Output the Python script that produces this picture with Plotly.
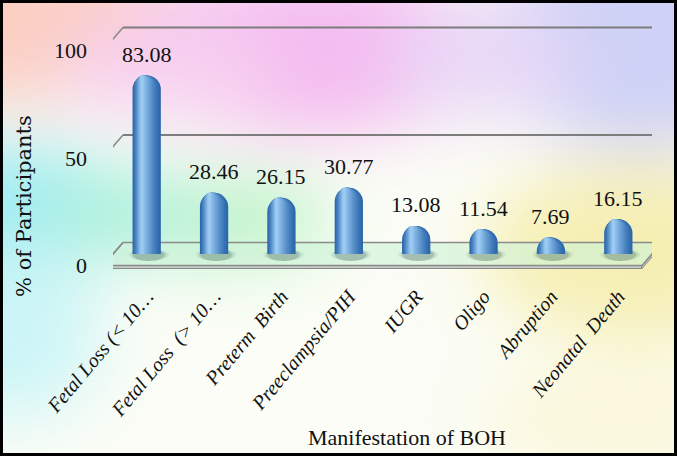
import base64
import plotly.graph_objects as go

# ---- data ----
categories = [
    "Fetal Loss (< 10\u2026",
    "Fetal Loss \u00a0(> 10\u2026",
    "Preterm \u00a0Birth",
    "Preeclampsia/PIH",
    "IUGR",
    "Oligo",
    "Abruption",
    "Neonatal \u00a0Death",
]
values = [83.08, 28.46, 26.15, 30.77, 13.08, 11.54, 7.69, 16.15]
y_ticks = [0, 50, 100]
x_title = "Manifestation of BOH"
y_title = "% of Participants"

SERIF = "Liberation Serif, Times New Roman, serif"

# ---- canvas / pseudo-3D geometry (pixels) ----
W, H = 677, 456
ML, MR, MT, MB = 87, 25, 20, 176      # plot area; value-axis labels sit on its left edge
BAR_LEFT = 113                         # left edge of the category band (mid depth)
PW, PH = W - ML - MR, H - MT - MB
PX_PER_UNIT = 2.15          # vertical pixels per percentage point
BASE_ROW = 254              # pixel row of value 0 at mid depth
DEPTH_X, DEPTH_Y = 20, 23   # front-to-back offset of the box
N = len(categories)
CAT_PX = (W - MR - BAR_LEFT) / N

y_lo = -(MT + PH - BASE_ROW) / PX_PER_UNIT
y_hi = y_lo + PH / PX_PER_UNIT
dxh = (DEPTH_X / 2) / CAT_PX         # half depth in category units
dyh = (DEPTH_Y / 2) / PX_PER_UNIT    # half depth in value units
slab = 3 / PX_PER_UNIT

x_left, x_right = -0.5, N - 0.5


def px_x(px):
    return (px - ML) / PW


def px_y(px):
    return 1 - (px - MT) / PH


# ---- soft multi-colour background with black frame ----
svg = f"""<svg xmlns='http://www.w3.org/2000/svg' width='{W}' height='{H}' viewBox='0 0 {W} {H}'>
<defs><filter id='b' x='-50%' y='-50%' width='200%' height='200%'><feGaussianBlur stdDeviation='34'/></filter></defs>
<rect width='{W}' height='{H}' fill='#fbfdf6'/>
<g filter='url(#b)'>
<ellipse cx='20' cy='20' rx='170' ry='85' fill='#fbcfc2'/>
<ellipse cx='310' cy='50' rx='200' ry='85' fill='#f4bcf0'/>
<ellipse cx='170' cy='70' rx='110' ry='50' fill='#f7d0f0'/>
<ellipse cx='640' cy='40' rx='150' ry='110' fill='#cfd2f6'/>
<ellipse cx='480' cy='60' rx='90' ry='60' fill='#e9d8f7'/>
<ellipse cx='10' cy='210' rx='130' ry='65' fill='#9decf3'/>
<ellipse cx='215' cy='220' rx='120' ry='42' fill='#bbf3c7'/>
<ellipse cx='120' cy='214' rx='80' ry='42' fill='#acf0da'/>
<ellipse cx='640' cy='250' rx='160' ry='90' fill='#f6efb4'/>
<ellipse cx='10' cy='330' rx='90' ry='90' fill='#ccf5f7'/>
<ellipse cx='620' cy='420' rx='140' ry='60' fill='#fbf8dc'/>
</g>
<rect x='1.5' y='1.5' width='{W-3}' height='{H-3}' fill='none' stroke='black' stroke-width='3'/>
</svg>"""
bg_src = "data:image/svg+xml;base64," + base64.b64encode(svg.encode()).decode()

fig = go.Figure()


def mix(c1, c2, t):
    a = [int(c1[i:i + 2], 16) for i in (1, 3, 5)]
    b = [int(c2[i:i + 2], 16) for i in (1, 3, 5)]
    return "#" + "".join(f"{round(p + (q - p) * t):02x}" for p, q in zip(a, b))


# cylinder-like bars: nested overlays from dark rim to light highlight
n_layers = 9
for k in range(n_layers):
    t = k / (n_layers - 1)
    width = 0.42 - 0.37 * t
    shift = -0.07 * t
    color = mix("#2c68ac", "#9acaf2", t ** 1.2)
    fig.add_trace(go.Bar(
        x=categories, y=values,
        width=width, offset=shift - width / 2,
        marker=dict(color=color, line=dict(width=0), cornerradius="50%"),
        hoverinfo="skip", showlegend=False,
    ))

# helper trace so the front-wall value axis is rendered
fig.add_trace(go.Scatter(
    x=[categories[0]], y=[y_ticks[0]], yaxis="y2", mode="markers",
    marker=dict(opacity=0), hoverinfo="skip", showlegend=False,
))

# value labels above the bars
for cat, v in zip(categories, values):
    fig.add_annotation(
        x=cat, y=v, xref="x", yref="y", text=f"{v:.2f}", showarrow=False,
        yshift=21, font=dict(family=SERIF, size=22, color="#111"),
    )

# ---- box: floor, left wall edge and gridlines ----
grey = "#8a8a8a"
shapes = []
# floor slab front face, right face and top
shapes.append(dict(type="path", xref="x", yref="y",
                   path=(f"M{x_left - dxh},{-dyh} L{x_right - dxh},{-dyh} "
                         f"L{x_right - dxh},{-dyh - slab} L{x_left - dxh},{-dyh - slab} Z"),
                   fillcolor="#c6ccc6", line=dict(color=grey, width=1), layer="below"))
shapes.append(dict(type="path", xref="x", yref="y",
                   path=(f"M{x_right - dxh},{-dyh} L{x_right + dxh},{dyh} "
                         f"L{x_right + dxh},{dyh - slab} L{x_right - dxh},{-dyh - slab} Z"),
                   fillcolor="#c6ccc6", line=dict(color=grey, width=1), layer="below"))
shapes.append(dict(type="path", xref="x", yref="y",
                   path=(f"M{x_left - dxh},{-dyh} L{x_right - dxh},{-dyh} "
                         f"L{x_right + dxh},{dyh} L{x_left + dxh},{dyh} Z"),
                   fillcolor="rgba(205,242,215,0.6)", line=dict(color=grey, width=1.5),
                   layer="below"))
# soft shadows on the floor around each bar foot
for i in range(N):
    for rx, alpha in ((0.30, 0.07), (0.26, 0.10), (0.23, 0.14)):
        shapes.append(dict(type="circle", xref="x", yref="y",
                           x0=i - rx + 0.03, x1=i + rx + 0.03, y0=-dyh * 0.6, y1=dyh * 0.45,
                           fillcolor=f"rgba(20,60,50,{alpha})", line=dict(width=0),
                           layer="below"))
# front edge of the left wall
shapes.append(dict(type="line", xref="x", yref="y",
                   x0=x_left - dxh, x1=x_left - dxh,
                   y0=y_ticks[0] - dyh, y1=y_ticks[-1] - dyh,
                   line=dict(color=grey, width=1.5), layer="below"))
for v in y_ticks:
    shapes.append(dict(type="line", xref="x", yref="y",
                       x0=x_left - dxh, x1=x_left + dxh, y0=v - dyh, y1=v + dyh,
                       line=dict(color=grey, width=1.5), layer="below"))
    if v > 0:
        shapes.append(dict(type="line", xref="x", yref="y",
                           x0=x_left + dxh, x1=x_right + dxh * 1.3, y0=v + dyh, y1=v + dyh,
                           line=dict(color="#7d7d7d", width=2.2), layer="below"))

fig.update_layout(
    width=W, height=H,
    margin=dict(l=ML, r=MR, t=MT, b=MB, pad=0),
    paper_bgcolor="white", plot_bgcolor="rgba(0,0,0,0)",
    barmode="overlay",
    shapes=shapes,
    images=[dict(source=bg_src, xref="paper", yref="paper",
                 x=px_x(0), y=px_y(0), sizex=W / PW, sizey=H / PH,
                 xanchor="left", yanchor="top", sizing="stretch", layer="below")],
    xaxis=dict(type="category", categoryarray=categories, range=[x_left, x_right],
               domain=[px_x(BAR_LEFT), 1],
               showgrid=False, zeroline=False, showline=False, ticks="",
               tickangle=-50,
               tickfont=dict(family=SERIF, size=20, color="#111", style="italic")),
    yaxis=dict(range=[y_lo, y_hi], visible=False, fixedrange=True),
    yaxis2=dict(range=[y_lo + dyh, y_hi + dyh], overlaying="y", anchor="free",
                position=0, side="left",
                tickvals=y_ticks, ticktext=[str(t) for t in y_ticks],
                showgrid=False, zeroline=False, showline=False, ticks="",
                tickfont=dict(family=SERIF, size=22, color="#111")),
    annotations=list(fig.layout.annotations) + [
        dict(text=x_title, xref="paper", yref="paper",
             x=px_x(407), y=px_y(437), xanchor="center", yanchor="middle",
             showarrow=False, font=dict(family=SERIF, size=22, color="#111")),
        dict(text=y_title, xref="paper", yref="paper", textangle=-90,
             x=px_x(24), y=px_y(206), xanchor="center", yanchor="middle",
             showarrow=False, font=dict(family="DejaVu Serif", size=21, color="#111")),
    ],
)

fig.write_html("out.html")
